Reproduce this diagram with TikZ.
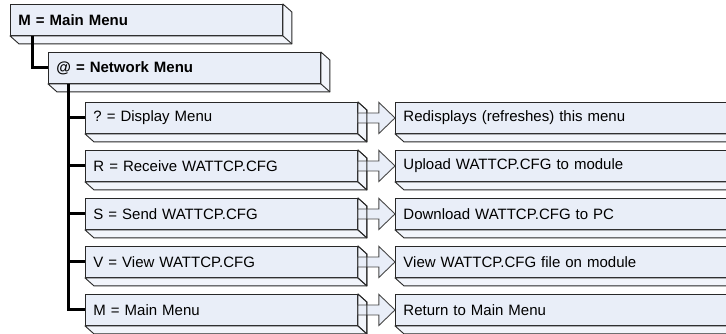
\documentclass[tikz,border=0pt]{standalone}
\usepackage{fontspec}
\setmainfont{Liberation Sans}
\usepackage{tikz}
\usepackage{xcolor}
\usetikzlibrary{calc}
\frenchspacing
\definecolor{menufill}{RGB}{233,238,248}
\definecolor{menuline}{RGB}{40,40,40}
\tikzset{
  menubox/.style={draw=menuline,fill=menufill,line width=0.9pt,anchor=north west,
    minimum height=31pt,inner xsep=8pt,inner ysep=0pt,text width=#1,align=left,
    font=\fontsize{15}{18}\selectfont},
  menubox/.default=256pt,
  boxside/.style={draw=menuline,fill=menufill!60!white,line width=0.9pt,line join=round},
  link/.style={line width=3pt},
  pointer/.style={draw=menuline!85,fill=menufill,line width=0.9pt,line join=miter}
}
\begin{document}
\begin{tikzpicture}[x=1pt,y=1pt]
\useasboundingbox (0,0) rectangle (726,333);
\clip (0,0) rectangle (726,333);
\node[menubox] (main) at (10,329) {\textbf{M = Main Menu}};
\node[menubox] (net) at (48,281) {\textbf{@ = Network Menu}};
\foreach \i/\key/\what in {1/{? = Display Menu}/{Redisplays (refreshes) this menu},
    2/{R = Receive WATTCP.CFG}/{Upload WATTCP.CFG to module},
    3/{S = Send WATTCP.CFG}/{Download WATTCP.CFG to PC},
    4/{V = View WATTCP.CFG}/{View WATTCP.CFG file on module},
    5/{M = Main Menu}/{Return to Main Menu}}{
  \node[menubox] (c\i) at (85,{231-48*(\i-1)}) {\key};
  \node[menubox=330pt] (r\i) at (395,{231-48*(\i-1)}) {\what};
}
\foreach \b in {main,net,c1,c2,c3,c4,c5,r1,r2,r3,r4,r5}{
  \filldraw[boxside] (\b.north east) -- ++(9,-8) |- ($(\b.south west)+(9,-8)$) -- (\b.south west) -- (\b.south east) -- cycle;
  \draw[boxside] (\b.south east) -- ++(9,-8);
}
\foreach \i in {1,...,5}{
  \filldraw[pointer] ([yshift=5pt]c\i.east) -- ++(21,0) -- ++(0,10.5) -- (r\i.west)
    -- ([shift={(21pt,-15.5pt)}]c\i.east) -- ++(0,10.5) -- ([yshift=-5pt]c\i.east) -- cycle;
  \draw[boxside,fill=none] (c\i.north east) -- ++(9,-8) -- ($(c\i.south east)+(9,-8)$) -- (c\i.south east);
}
\draw[link] ([xshift=22pt]main.south west) |- (net.west);
\coordinate (trunk) at ([xshift=20pt]net.south west);
\draw[link] (trunk) |- (c5.west);
\foreach \i in {1,...,4}
  \draw[link] (trunk |- c\i.west) -- (c\i.west);
\end{tikzpicture}
\end{document}
